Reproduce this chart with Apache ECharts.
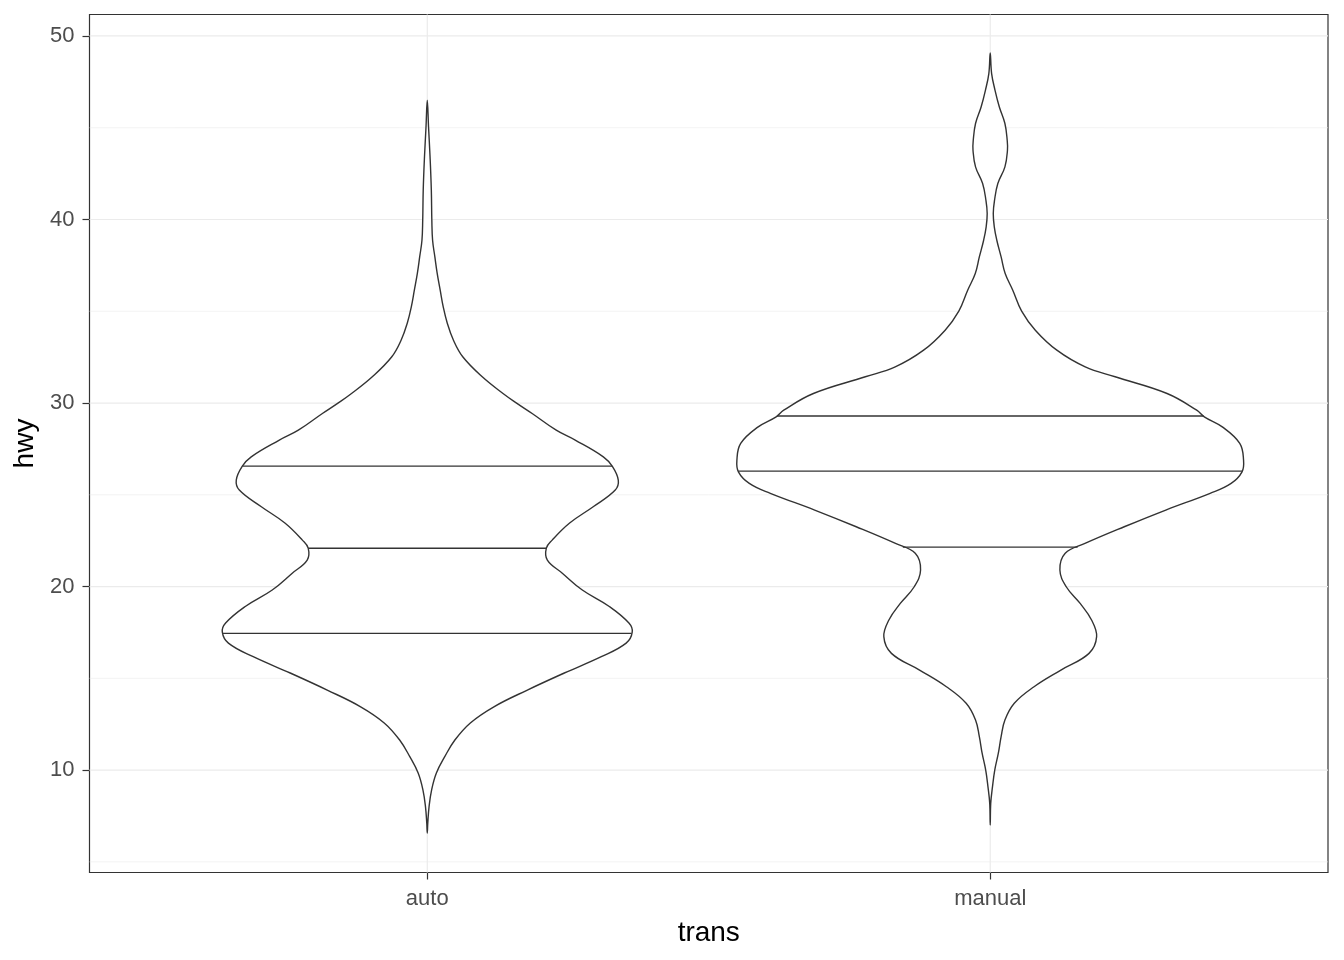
<!DOCTYPE html>
<html><head><meta charset="utf-8">
<script src="https://cdn.jsdelivr.net/npm/echarts@6/dist/echarts.min.js"></script>
<style>html,body{margin:0;padding:0;background:#fff}#c{width:1344px;height:960px}</style>
</head><body><div id="c"></div>
<script>
// ---- data ----
const categories = ['auto', 'manual'];
const yTicks = [10, 20, 30, 40, 50];
const yMinorTicks = [5, 15, 25, 35, 45];

// violin outline: hwy (descending) and relative violin width (1 = widest violin)
const autoHwy = [46.50, 45.04, 43.41, 41.60, 39.96, 38.87, 37.96, 37.08, 36.15, 35.24, 34.35, 33.43, 32.52, 31.43, 30.52, 30.01, 29.43, 28.52, 27.98, 27.07, 26.56, 25.80, 25.26, 24.35, 23.46, 22.53, 22.09, 21.44, 20.73, 19.81, 18.90, 18.01, 17.52, 16.92, 16.18, 15.29, 14.36, 13.45, 12.57, 11.64, 10.73, 9.84, 8.91, 8.00, 7.12, 6.57];
const autoWidth = [0, 0.005, 0.011, 0.016, 0.018, 0.021, 0.030, 0.039, 0.051, 0.063, 0.079, 0.103, 0.140, 0.217, 0.299, 0.351, 0.414, 0.509, 0.584, 0.695, 0.730, 0.754, 0.742, 0.655, 0.562, 0.493, 0.470, 0.474, 0.533, 0.612, 0.720, 0.796, 0.809, 0.785, 0.687, 0.541, 0.395, 0.263, 0.170, 0.109, 0.069, 0.036, 0.017, 0.007, 0.002, 0];

const manualHwy = [49.07, 47.95, 47.04, 46.13, 45.23, 44.32, 43.77, 42.87, 41.96, 41.05, 40.33, 39.60, 38.87, 37.96, 37.06, 36.15, 35.01, 33.97, 32.88, 31.97, 31.43, 30.52, 29.61, 29.25, 28.70, 27.80, 26.89, 26.25, 25.62, 25.08, 24.17, 23.26, 22.35, 21.81, 20.90, 19.99, 19.08, 18.18, 17.27, 16.36, 15.45, 14.54, 13.64, 12.73, 11.82, 10.92, 10.01, 9.10, 8.19, 7.01];
const manualWidth = [0, 0.0055, 0.019, 0.036, 0.058, 0.067, 0.068, 0.058, 0.030, 0.017, 0.012, 0.016, 0.026, 0.043, 0.059, 0.089, 0.124, 0.178, 0.263, 0.375, 0.493, 0.698, 0.815, 0.845, 0.916, 0.985, 1.0, 0.994, 0.951, 0.868, 0.693, 0.529, 0.374, 0.296, 0.275, 0.300, 0.355, 0.400, 0.420, 0.390, 0.279, 0.173, 0.095, 0.058, 0.043, 0.032, 0.018, 0.009, 0.002, 0];

const autoQuantiles = [17.45, 22.09, 26.56];
const manualQuantiles = [22.15, 26.29, 29.29];

// ---- styling ----
const FONT = "'Liberation Sans', Arial, sans-serif";
const HALF = 0.45;           // half of violin width (0.9) in category units
const X_MIN = 0.4, X_MAX = 2.6;

function interpWidth(hwy, width, q) {
  for (let i = 0; i < hwy.length - 1; i++) {
    if (hwy[i] >= q && q >= hwy[i + 1]) {
      const t = (hwy[i] - q) / (hwy[i] - hwy[i + 1]);
      return width[i] + t * (width[i + 1] - width[i]);
    }
  }
  return 0;
}

function violinRenderer(center, hwy, width, quantiles) {
  return function (params, api) {
    const pts = [];
    const n = hwy.length;
    for (let i = n - 1; i >= 0; i--) pts.push(api.coord([center + width[i] * HALF, hwy[i]]));
    for (let i = 0; i < n; i++) {
      if (width[i] === 0) continue;
      pts.push(api.coord([center - width[i] * HALF, hwy[i]]));
    }
    const children = [{
      type: 'polygon',
      shape: { points: pts, smooth: 0.4 },
      style: { fill: '#ffffff', stroke: '#333333', lineWidth: 1.4 }
    }];
    quantiles.forEach(q => {
      const w = interpWidth(hwy, width, q) * HALF;
      const a = api.coord([center - w, q]);
      const b = api.coord([center + w, q]);
      children.push({
        type: 'line',
        shape: { x1: a[0], y1: a[1], x2: b[0], y2: b[1] },
        style: { stroke: '#333333', lineWidth: 1.4 }
      });
    });
    return { type: 'group', children };
  };
}

function hLineRenderer(color, lw) {
  return function (params, api) {
    const cs = params.coordSys;
    const p = api.coord([X_MIN, api.value(1)]);
    return { type: 'line', shape: { x1: cs.x, y1: p[1], x2: cs.x + cs.width, y2: p[1] },
      style: { stroke: color, lineWidth: lw } };
  };
}
function vLineRenderer(color, lw) {
  return function (params, api) {
    const cs = params.coordSys;
    const p = api.coord([api.value(0), 10]);
    return { type: 'line', shape: { x1: p[0], y1: cs.y, x2: p[0], y2: cs.y + cs.height },
      style: { stroke: color, lineWidth: lw } };
  };
}

const chart = echarts.init(document.getElementById('c'), null, { renderer: 'canvas' });
chart.setOption({
  animation: false,
  backgroundColor: '#ffffff',
  grid: { left: 89.5, top: 14.5, width: 1238.5, height: 858, show: true,
          borderColor: '#333333', borderWidth: 1.2, backgroundColor: '#ffffff' },
  xAxis: {
    type: 'value', min: X_MIN, max: X_MAX,
    splitLine: { show: false },
    axisLine: { show: false },
    axisTick: { show: true, customValues: [1, 2], length: 7, lineStyle: { color: '#333333', width: 1.2 } },
    axisLabel: { customValues: [1, 2], margin: 15, color: '#4d4d4d', fontSize: 22, fontFamily: FONT,
                 formatter: v => categories[Math.round(v) - 1] },
    name: 'trans', nameLocation: 'middle', nameGap: 47,
    nameTextStyle: { color: '#000000', fontSize: 28, fontFamily: FONT }
  },
  yAxis: {
    type: 'value', min: 4.42, max: 51.17,
    splitLine: { show: false },
    axisLine: { show: false },
    axisTick: { show: true, customValues: yTicks, length: 7, lineStyle: { color: '#333333', width: 1.2 } },
    axisLabel: { customValues: yTicks, margin: 15, color: '#4d4d4d', fontSize: 22, fontFamily: FONT },
    name: 'hwy', nameLocation: 'middle', nameGap: 41,
    nameTextStyle: { color: '#000000', fontSize: 28, fontFamily: FONT }
  },
  series: [
    { type: 'custom', silent: true, z: 1, data: yMinorTicks.map(v => [1, v]),
      encode: { x: 0, y: 1 }, renderItem: hLineRenderer('#ebebeb', 0.6) },
    { type: 'custom', silent: true, z: 1, data: yTicks.map(v => [1, v]),
      encode: { x: 0, y: 1 }, renderItem: hLineRenderer('#ebebeb', 1.2) },
    { type: 'custom', silent: true, z: 1, data: categories.map((c, i) => [i + 1, 10]),
      encode: { x: 0, y: 1 }, renderItem: vLineRenderer('#ebebeb', 1.2) },
    { type: 'custom', silent: true, z: 2, data: [[1, 20]], encode: { x: 0, y: 1 },
      renderItem: violinRenderer(1, autoHwy, autoWidth, autoQuantiles) },
    { type: 'custom', silent: true, z: 2, data: [[2, 20]], encode: { x: 0, y: 1 },
      renderItem: violinRenderer(2, manualHwy, manualWidth, manualQuantiles) }
  ]
});
</script>
</body></html>
